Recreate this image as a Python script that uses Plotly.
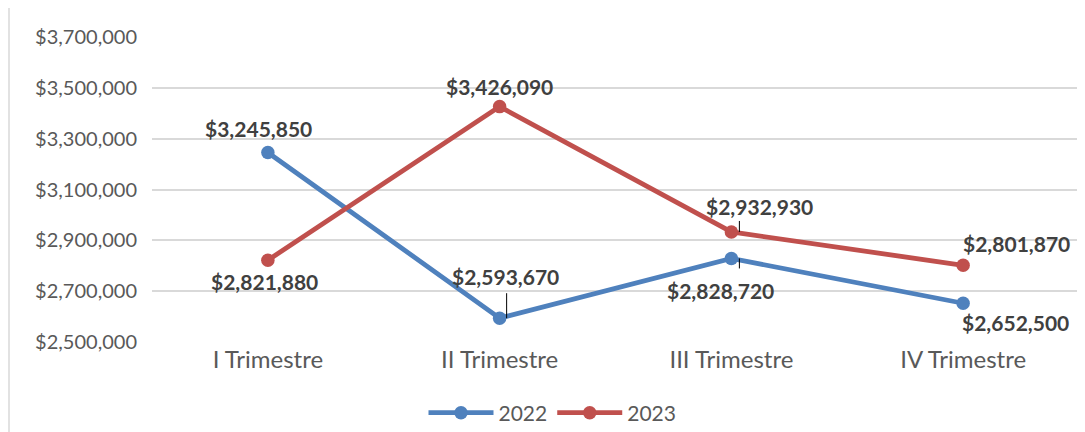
import plotly.graph_objects as go

quarters = ["I Trimestre", "II Trimestre", "III Trimestre", "IV Trimestre"]
years = ["2022", "2023"]
sales_2022 = [3245850, 2593670, 2828720, 2652500]
sales_2023 = [2821880, 3426090, 2932930, 2801870]
y_ticks = [2500000, 2700000, 2900000, 3100000, 3300000, 3500000, 3700000]

colors = {"2022": "#4F81BD", "2023": "#C0504D"}
series = {"2022": sales_2022, "2023": sales_2023}

# label offsets (px) relative to each point: (xshift, yshift)
label_offsets = {
    "2022": [(-9, 24), (6, 42), (-11, -32), (52, -19)],
    "2023": [(-3, -21), (0, 20), (28, 25), (53, 22)],
}
# leader lines: (series, index, xshift, length px, direction up(+1)/down(-1))
leaders = [("2022", 1, 7, 27, 1), ("2023", 2, 8, 13, 1), ("2022", 2, 8, 12, -1)]

# page has an 8px body margin, so the figure is drawn 8px smaller
W, H = 1077, 424
ML, MR, MT, MB = 144, 6, 29, 90
PW, PH = W - ML - MR, H - MT - MB

fig = go.Figure()
for yr in years:
    fig.add_trace(go.Scatter(
        x=quarters, y=series[yr], name=yr, mode="lines+markers",
        line=dict(color=colors[yr], width=4.8),
        marker=dict(color=colors[yr], size=13.5),
    ))

font_lbl = dict(family="Lato, Carlito, sans-serif", size=21, color="#404040")
annotations = []
for yr in years:
    for i, q in enumerate(quarters):
        dx, dy = label_offsets[yr][i]
        v = series[yr][i]
        annotations.append(dict(
            x=q, y=v, xref="x", yref="y", text="<b>${:,}</b>".format(v),
            showarrow=False, xshift=dx, yshift=dy, font=font_lbl,
        ))
for yr, i, xs, ln, d in leaders:
    annotations.append(dict(
        x=quarters[i], y=series[yr][i], xref="x", yref="y", text=" ",
        font=dict(size=1), showarrow=True, arrowhead=0, arrowwidth=1,
        arrowcolor="#000000", ax=0, ay=-ln * d, xshift=xs, standoff=0,
    ))

fig.update_layout(
    width=W, height=H,
    margin=dict(l=ML, r=MR, t=MT, b=MB, autoexpand=False),
    paper_bgcolor="white", plot_bgcolor="white",
    font=dict(family="Lato, Carlito, sans-serif", size=20, color="#595959"),
    showlegend=True,
    legend=dict(orientation="h", x=0.5 - 63 / PW, xanchor="center",
                yref="container", y=1 - 405 / H, yanchor="middle",
                font=dict(size=21, color="#595959"), itemwidth=65),
    annotations=annotations,
    shapes=[dict(type="line", xref="paper", yref="paper",
                 x0=(1 - ML) / PW, x1=(1 - ML) / PW, y0=-0.5, y1=1.2,
                 line=dict(color="#D9D9D9", width=1.5), layer="below")],
)
fig.update_xaxes(type="category", range=[-0.5, 3.5], showgrid=False,
                 showline=False, ticks="", automargin=False,
                 ticklabelstandoff=1,
                 tickfont=dict(size=24, color="#595959"))
fig.update_yaxes(range=[2500000, 3700000], tickvals=y_ticks,
                 ticktext=["${:,}".format(t) for t in y_ticks],
                 showgrid=True, gridcolor="#D9D9D9", gridwidth=1.5, automargin=False,
                 zeroline=False, showline=False, ticks="outside", ticklen=10,
                 tickcolor="rgba(0,0,0,0)", tickfont=dict(size=20, color="#595959"))

fig.write_html("out.html")
